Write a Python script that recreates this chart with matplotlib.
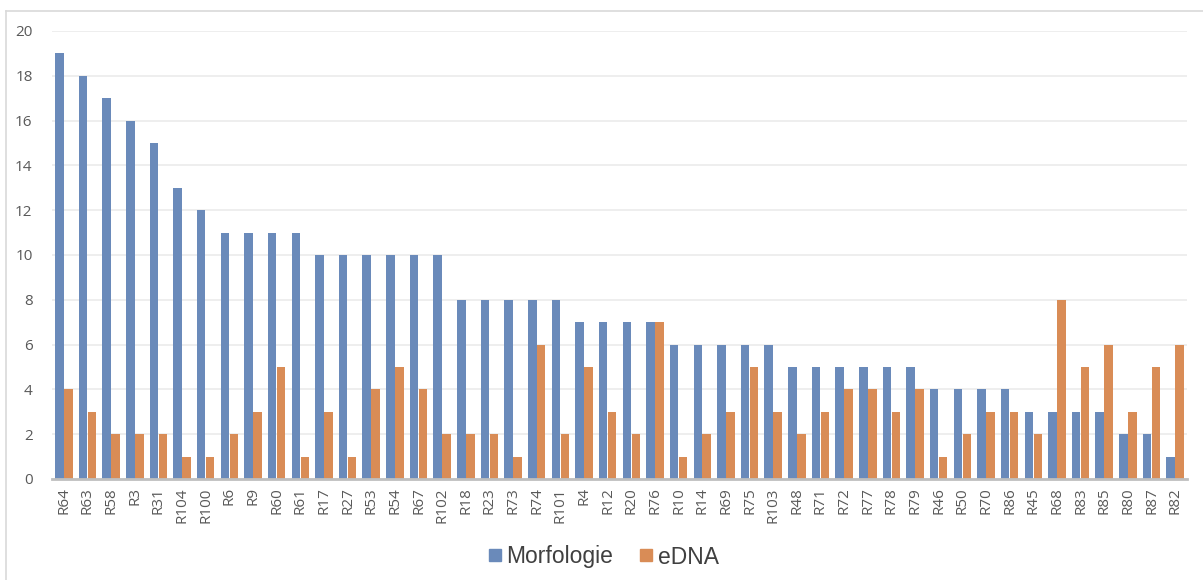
import matplotlib
matplotlib.use("Agg")
import numpy as np
from matplotlib import pyplot as plt
from matplotlib.lines import Line2D

sites = ["R64", "R63", "R58", "R3", "R31", "R104", "R100", "R6", "R9", "R60",
         "R61", "R17", "R27", "R53", "R54", "R67", "R102", "R18", "R23", "R73",
         "R74", "R101", "R4", "R12", "R20", "R76", "R10", "R14", "R69", "R75",
         "R103", "R48", "R71", "R72", "R77", "R78", "R79", "R46", "R50", "R70",
         "R86", "R45", "R68", "R83", "R85", "R80", "R87", "R82"]
morfologie = [19, 18, 17, 16, 15, 13, 12, 11, 11, 11,
              11, 10, 10, 10, 10, 10, 10, 8, 8, 8,
              8, 8, 7, 7, 7, 7, 6, 6, 6, 6,
              6, 5, 5, 5, 5, 5, 5, 4, 4, 4,
              4, 3, 3, 3, 3, 2, 2, 1]
edna = [4, 3, 2, 2, 2, 1, 1, 2, 3, 5,
        1, 3, 1, 4, 5, 4, 2, 2, 2, 1,
        6, 2, 5, 3, 2, 7, 1, 2, 3, 5,
        3, 2, 3, 4, 4, 3, 4, 1, 2, 3,
        3, 2, 8, 5, 6, 3, 5, 6]
y_ticks = [0, 2, 4, 6, 8, 10, 12, 14, 16, 18, 20]

BLUE = "#6A8ABA"
ORANGE = "#D98C56"
TEXT = "#595959"

plt.rcParams["font.family"] = ["Open Sans", "DejaVu Sans"]

fig = plt.figure(figsize=(12.03, 5.80), dpi=100)
ax = fig.add_axes([52 / 1203, 1 - 479 / 580, (1187 - 52) / 1203, (479 - 31) / 580])

x = np.arange(len(sites))
w = 0.36
ax.bar(x - w / 2 - 0.01, morfologie, w, color=BLUE, label="Morfologie", zorder=3)
ax.bar(x + w / 2 + 0.01, edna, w, color=ORANGE, label="eDNA", zorder=3)

ax.set_xlim(-0.5, len(sites) - 0.5)
ax.set_ylim(0, 20)
ax.set_yticks(y_ticks)
ax.set_xticks(x)
ax.set_xticklabels(sites, rotation=90)
ax.tick_params(axis="both", length=0, colors=TEXT, labelsize=11)
ax.tick_params(axis="x", pad=6)
ax.tick_params(axis="y", pad=14)
ax.grid(axis="y", color="#EBEBEB", linewidth=1.2, zorder=0)
for side in ("top", "right", "left"):
    ax.spines[side].set_visible(False)
ax.spines["bottom"].set_color("#BFBFBF")
ax.spines["bottom"].set_linewidth(2)
ax.spines["bottom"].set_zorder(4)

handles = [Line2D([], [], marker="s", linestyle="", markersize=8, color=BLUE),
           Line2D([], [], marker="s", linestyle="", markersize=8, color=ORANGE)]
fig.legend(handles, ["Morfologie", "eDNA"], loc="center", bbox_to_anchor=(0.5, 1 - 557 / 580),
           ncol=2, frameon=False, labelcolor="#404040",
           prop={"family": ["Liberation Sans", "DejaVu Sans"], "size": 16.5},
           handletextpad=0.05, columnspacing=1.0, handlelength=0.9)

# chart frame: top and left edges
fig.add_artist(Line2D([6 / 1203, 6 / 1203], [0, 1 - 10.5 / 580], transform=fig.transFigure,
                      color="#D9D9D9", linewidth=1.2))
fig.add_artist(Line2D([6 / 1203, 1], [1 - 10.5 / 580, 1 - 10.5 / 580], transform=fig.transFigure,
                      color="#D9D9D9", linewidth=1.2))

fig.savefig("out.png", dpi=100)
